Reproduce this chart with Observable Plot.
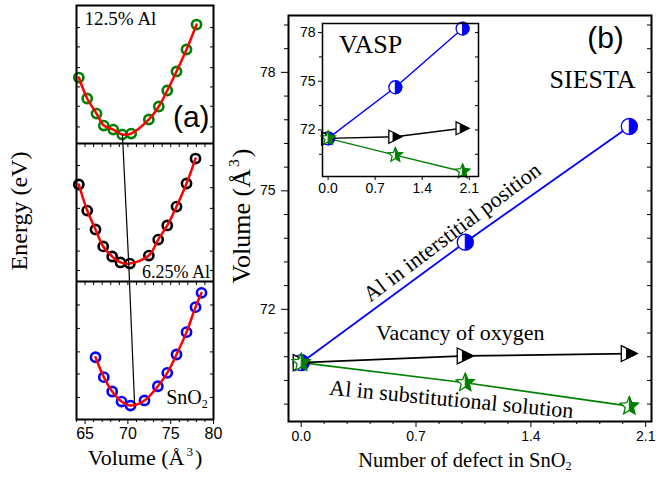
<!DOCTYPE html>
<html><head><meta charset="utf-8">
<script src="https://cdn.jsdelivr.net/npm/d3@7"></script>
<script src="https://cdn.jsdelivr.net/npm/@observablehq/plot@0.6"></script>
<style>
body{margin:0;background:#fff;}
#fig{position:relative;width:668px;height:481px;overflow:hidden;background:#fff;font-family:"Liberation Serif",serif;color:#000;}
#fig svg{position:absolute;overflow:visible;}
.lab{position:absolute;white-space:nowrap;line-height:1;}
.lab sup{font-size:0.6em;vertical-align:0.7em;line-height:0;margin:0 2px;}
.lab sub{font-size:0.6em;vertical-align:-0.3em;line-height:0;}
</style></head><body><div id="fig"></div>
<script>
// ---------- Panel (a): E(V) curves (relative energy, arbitrary units) ----------
const volTop = [64.27,65.25,66.34,67.19,68.29,69.34,70.39,72.45,73.61,74.60,75.68,76.85,78.02];
const eTop   = [0.478,0.326,0.217,0.130,0.101,0.065,0.072,0.174,0.268,0.384,0.522,0.681,0.862];
const volMid = [64.27,65.25,66.22,67.12,68.17,69.14,70.23,72.45,73.54,74.60,75.68,76.85,77.90];
const eMid   = [0.703,0.514,0.377,0.254,0.181,0.138,0.130,0.188,0.304,0.406,0.543,0.710,0.891];
const volBot = [66.22,67.19,68.17,69.26,70.31,71.94,73.50,74.60,75.68,76.85,77.90,78.60];
const eBot   = [0.451,0.307,0.203,0.130,0.101,0.138,0.241,0.338,0.471,0.633,0.814,0.918];
const minVol = [69.37,70.11,70.78];
const minE   = [0.058,0.116,0.116];
const panelLabels = ["12.5% Al","6.25% Al"];
const panelColors = ["#008000","#000000","#0000ff"];
const volTicks = [65,70,75,80];
const volMinor = [64,66,67,68,69,71,72,73,74,76,77,78,79];
const aTicks = [0.16,0.33,0.49,0.66,0.83, 1.08,1.22,1.38,1.53,1.68,1.84, 2.12,2.27,2.41,2.55,2.70,2.84];

// ---------- Panel (b): volume vs number of defects ----------
const defects = [0,1,2];
const siestaInter = [70.65,73.70,76.63];
const siestaVac   = [70.65,70.82,70.88];
const siestaSub   = [70.65,70.14,69.55];
const vaspInter = [71.48,74.63,78.25];
const vaspVac   = [71.48,71.58,72.10];
const vaspSub   = [71.48,70.45,69.44];
const defTicks = [0,0.7,1.4,2.1];
const defMinor = [0.14,0.28,0.42,0.56,0.84,0.98,1.12,1.26,1.54,1.68,1.82,1.96];
const volBTicks = [72,75,78];
const volBMinor = [69.6,70.2,70.8,71.4,72.6,73.2,73.8,74.4,75.6,76.2,76.8,77.4,78.6,79.2];
const volInsetMinor = [70.5,73.5,76.5];

// ---------- symbols ----------
const R = s => Math.sqrt(s/Math.PI);
const symCircle = {draw(c,s){const r=R(s); c.moveTo(r,0); c.arc(0,0,r,0,2*Math.PI); c.closePath();}};
const symCircleR = {draw(c,s){const r=R(s); c.moveTo(0,-r); c.arc(0,0,r,-Math.PI/2,Math.PI/2); c.closePath();}};
const symTri = {draw(c,s){const a=R(s); c.moveTo(a,0); c.lineTo(-a,-a); c.lineTo(-a,a); c.closePath();}};
const symTriR = {draw(c,s){const a=R(s); c.moveTo(a,0); c.lineTo(-0.35*a,0.675*a); c.lineTo(-0.35*a,-0.675*a); c.closePath();}};
function starPts(Ro,n){const ri=Ro*0.45,p=[];for(let k=0;k<n;k++){const t=-Math.PI/2+k*Math.PI/5,rr=k%2?ri:Ro;p.push([rr*Math.cos(t),rr*Math.sin(t)]);}return p;}
const symStar = {draw(c,s){const p=starPts(R(s),10); c.moveTo(p[0][0],p[0][1]); p.slice(1).forEach(q=>c.lineTo(q[0],q[1])); c.closePath();}};
const symStarR = {draw(c,s){const p=starPts(R(s),6); c.moveTo(p[0][0],p[0][1]); p.slice(1).forEach(q=>c.lineTo(q[0],q[1])); c.closePath();}};

const fig = document.getElementById("fig");
function place(svg, left, top){ svg.style.left = left+"px"; svg.style.top = top+"px"; fig.appendChild(svg); }
function label(html, x, y, size, rot){
  const d = document.createElement("div"); d.className="lab"; d.innerHTML = html;
  d.style.left = x+"px"; d.style.top = y+"px"; d.style.fontSize = size+"px";
  d.style.transform = `translate(-50%,-50%)` + (rot ? ` rotate(${rot}deg)` : "");
  fig.appendChild(d);
}
const noText = () => "";

// ---------- build panel (a) ----------
const sets = [[volTop,eTop,2],[volMid,eMid,1],[volBot,eBot,0]];
const rowsA = sets.flatMap(([v,e,off],p) => v.map((vv,i)=>({panel:p, vol:vv, y:e[i]+off})));
const minRows = minVol.map((v,i)=>({vol:v, y:minE[i]+(2-i)}));
const divTicks = [1,2].flatMap(y => [...volTicks, ...volMinor].map(v=>({vol:v, y})));

const pa = Plot.plot({
  width: 240, height: 481, marginLeft: 76, marginRight: 27, marginTop: 5, marginBottom: 62,
  x: {domain: [64, 80]}, y: {domain: [0, 3]},
  style: {fontFamily: "Liberation Sans, Arial, sans-serif", fontSize: "16px", background: "transparent", color: "#000"},
  marks: [
    Plot.axisX(volTicks, {tickSize: 5, tickPadding: 3, label: null, fontSize: 16}),
    Plot.axisX(volMinor, {tickSize: 3, tickFormat: noText, label: null}),
    Plot.axisY(aTicks, {anchor: "left", tickSize: -4, tickFormat: noText, label: null}),
    Plot.axisY(aTicks, {anchor: "right", tickSize: -4, tickFormat: noText, label: null}),
    Plot.ruleX(divTicks, {x: "vol", y1: "y", y2: "y", insetBottom: -4}),
    ...[0,1,2].map(p => Plot.dot(rowsA.filter(d=>d.panel===p), {x:"vol", y:"y", r:4.6, stroke: panelColors[p], strokeWidth: 2.6, fill: "none"})),
    Plot.line(rowsA, {x:"vol", y:"y", z:"panel", stroke:"#ff0000", strokeWidth: 2.5, curve:"catmull-rom"}),
    Plot.line(minRows, {x:"vol", y:"y", stroke:"#000", strokeWidth: 1.2}),
    Plot.ruleY([1,2], {strokeWidth: 2}),
    Plot.frame({strokeWidth: 2}),
    Plot.text([panelLabels[0]], {x: 69.14, y: 2.90, fontFamily: "Liberation Serif", fontSize: 19}),
    Plot.text([panelLabels[1]], {x: 79.6, y: 1.07, textAnchor: "end", fontFamily: "Liberation Serif", fontSize: 18}),
    Plot.text(["(a)"], {x: 77.4, y: 2.19, fontFamily: "Liberation Sans", fontSize: 30})
  ]
});
place(pa, 0, 0);

// ---------- build panel (b) ----------
const mk = (xs, ys) => xs.map((x,i)=>({x, y: ys[i]}));
function markerMarks(data, color, sym, symR, r){
  return [
    Plot.dot(data, {x:"x", y:"y", r, symbol: sym, fill:"#fff", stroke: color, strokeWidth: 1.3}),
    Plot.dot(data, {x:"x", y:"y", r, symbol: symR, fill: color, stroke: color, strokeWidth: 1})
  ];
}
const sInter = mk(defects, siestaInter), sVac = mk(defects, siestaVac), sSub = mk(defects, siestaSub);
const vInter = mk(defects, vaspInter), vVac = mk(defects, vaspVac), vSub = mk(defects, vaspSub);

const annB = [
  {text:"Al in interstitial position", x:0.92, y:73.95, rotate:-37},
  {text:"Vacancy of oxygen", x:0.97, y:71.39, rotate:0},
  {text:"Al in substitutional solution", x:0.916, y:69.72, rotate:5.5}
];

const pb = Plot.plot({
  width: 428, height: 481, marginLeft: 48, marginRight: 17, marginTop: 15, marginBottom: 60,
  x: {domain: [-0.0774, 2.1354]}, y: {domain: [69.16, 79.44]},
  style: {fontFamily: "Liberation Sans, Arial, sans-serif", fontSize: "14px", background: "transparent", color: "#000"},
  marks: [
    Plot.axisX(defTicks, {tickSize: 6, tickPadding: 4, tickFormat: d => d.toFixed(1), label: null}),
    Plot.axisX(defMinor, {tickSize: 3, tickFormat: noText, label: null}),
    Plot.axisY(volBTicks, {anchor: "left", tickSize: 7, tickPadding: 6, label: null}),
    Plot.axisY(volBMinor, {anchor: "left", tickSize: 4, tickFormat: noText, label: null}),
    Plot.axisY([...volBTicks, ...volBMinor], {anchor: "right", tickSize: -5, tickFormat: noText, label: null}),
    Plot.line(sInter, {x:"x", y:"y", stroke:"#0000ff", strokeWidth: 1.8}),
    Plot.line(sVac, {x:"x", y:"y", stroke:"#000", strokeWidth: 1.8}),
    Plot.line(sSub, {x:"x", y:"y", stroke:"#008000", strokeWidth: 1.6}),
    ...markerMarks(sInter, "#0000ff", symCircle, symCircleR, 8),
    ...markerMarks(sVac, "#000", symTri, symTriR, 8),
    ...markerMarks(sSub, "#008000", symStar, symStarR, 9.5),
    Plot.text(annB, {x:"x", y:"y", text:"text", rotate:"rotate", fontFamily:"Liberation Serif", fontSize: 22}),
    Plot.text(["SIESTA"], {x: 1.776, y: 77.82, fontFamily:"Liberation Serif", fontSize: 26}),
    Plot.text(["(b)"], {x: 1.855, y: 78.86, fontFamily: "Liberation Sans", fontSize: 30}),
    Plot.frame({strokeWidth: 2})
  ]
});
place(pb, 240, 0);

const pi = Plot.plot({
  width: 195, height: 190, marginLeft: 30, marginTop: 7, marginRight: 9, marginBottom: 30,
  x: {domain: [-0.083, 2.237]}, y: {domain: [69.13, 78.56]},
  style: {fontFamily: "Liberation Sans, Arial, sans-serif", fontSize: "14px", background: "transparent", color: "#000"},
  marks: [
    Plot.axisX(defTicks, {tickSize: 4, tickPadding: 3, tickFormat: d => d.toFixed(1), label: null}),
    Plot.axisY(volBTicks, {anchor: "left", tickSize: 4, tickPadding: 3, label: null}),
    Plot.axisY(volInsetMinor, {anchor: "left", tickSize: 3, tickFormat: noText, label: null}),
    Plot.axisY([...volBTicks, ...volInsetMinor], {anchor: "right", tickSize: -4, tickFormat: noText, label: null}),
    Plot.line(vInter, {x:"x", y:"y", stroke:"#0000ff", strokeWidth: 1.4}),
    Plot.line(vVac, {x:"x", y:"y", stroke:"#000", strokeWidth: 1.4}),
    Plot.line(vSub, {x:"x", y:"y", stroke:"#008000", strokeWidth: 1.4}),
    ...markerMarks(vInter, "#0000ff", symCircle, symCircleR, 6.5),
    ...markerMarks(vVac, "#000", symTri, symTriR, 6.5),
    ...markerMarks(vSub, "#008000", symStar, symStarR, 7.5),
    Plot.text(["VASP"], {x: 0.633, y: 77.28, fontFamily: "Liberation Serif", fontSize: 26}),
    Plot.frame({strokeWidth: 1.5})
  ]
});
place(pi, 292, 16);

// ---------- axis titles ----------
label("Energy (eV)", 19, 211, 24, -90);
label("Volume (Å<sup>3</sup>)", 145, 458, 22);
label("SnO<sub>2</sub>", 187, 397, 20);
label("Volume (Å<sup>3</sup>)", 242, 216, 26, -90);
label("Number of defect in SnO<sub>2</sub>", 465, 460, 20.5);
</script></body></html>
